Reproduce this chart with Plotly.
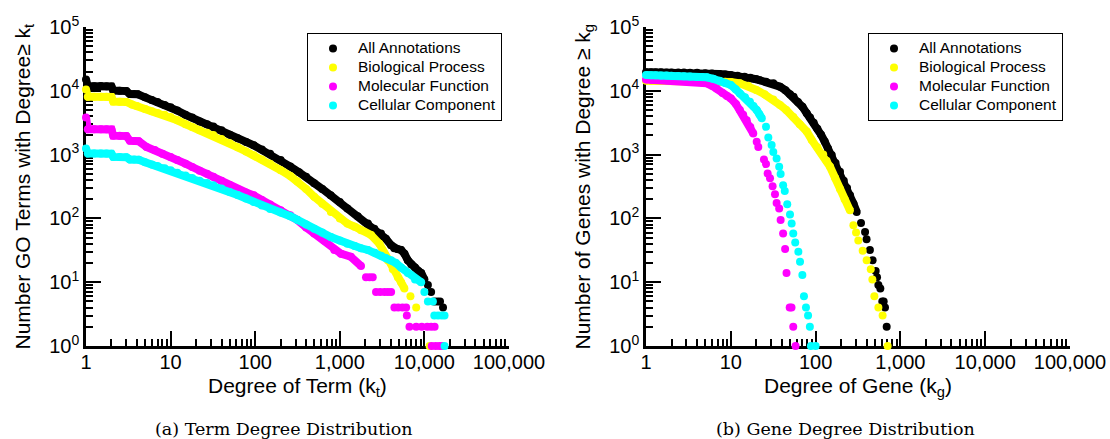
import plotly.graph_objects as go

# ---------------- data ----------------
series_names = ["All Annotations", "Biological Process", "Molecular Function", "Cellular Component"]

# (a) Term degree distribution
term_k_all = [1, 1.05, 1.25, 1.5, 1.75, 2.0, 2.1, 2.5, 3.0, 3.3, 3.7, 4.1, 5, 6, 7, 8.5, 10, 12, 15, 18, 22, 27, 32,
              40, 50, 62, 78, 96, 120, 150, 200, 260, 330, 400, 498, 620, 780, 1000, 1230, 1630, 2150, 2560, 3070,
              3500, 4040, 4400, 4800, 5300, 5810, 6370, 7000, 7750, 8500, 9160, 10000, 11000, 12000, 13100, 14200,
              15300, 16600]
term_n_all = [15100, 11800, 11800, 11900, 11800, 11700, 10100, 10000, 9900, 8900, 8900, 8800, 7900, 7200, 6700, 6000,
              5500, 4900, 4200, 3800, 3300, 3000, 2750, 2400, 2050, 1800, 1580, 1400, 1200, 1030, 820, 650, 530, 450,
              355, 290, 230, 180, 143, 108, 83, 69, 58, 48, 38, 34, 33, 32, 28, 22, 19, 17, 15, 14, 11, 9, 7, 5, 5, 5, 4]

term_k_bp = [1, 1.05, 1.25, 1.5, 1.75, 2.0, 2.1, 2.5, 3.0, 3.5, 4, 5, 6, 7, 8.5, 10, 12, 15, 18, 22, 27, 32, 40, 50,
             62, 78, 96, 120, 150, 200, 260, 316, 400, 498, 620, 784, 1000, 1230, 1500, 1780, 2340, 2940, 3370, 3690,
             4230, 4850, 5300, 5800, 6840, 8000, 11500]
term_n_bp = [10500, 8050, 8050, 8100, 8050, 8000, 6800, 6750, 6700, 6100, 5760, 5200, 4800, 4500, 4200, 3900, 3450,
             3000, 2700, 2400, 2200, 2030, 1750, 1500, 1300, 1120, 980, 840, 720, 570, 460, 380, 290, 218, 170, 126,
             100, 83, 74, 65, 55, 40, 28, 22, 16, 12, 10, 8, 6, 4, 1]

term_k_mf = [1, 1.05, 1.25, 1.5, 1.75, 2.0, 2.1, 2.5, 3.0, 3.3, 3.7, 4.2, 5.2, 6.5, 8, 10, 12, 15, 18, 22, 27, 32, 40,
             50, 62, 78, 96, 120, 150, 200, 260, 316, 400, 498, 653, 860, 1030, 1350, 1780, 2040, 2250, 2450, 2680,
             3000, 3370, 3700, 4040, 4420, 4900, 5500, 6080, 6200, 6660, 8000, 9300, 10800, 12000, 13200, 12200,
             13600, 15000, 16300]
term_n_mf = [3800, 2500, 2500, 2500, 2500, 2480, 1980, 1970, 1950, 1650, 1640, 1620, 1320, 1180, 1030, 920, 820, 720,
             640, 560, 500, 450, 390, 335, 290, 255, 230, 195, 165, 134, 112, 94, 72, 58, 45, 32, 28, 25, 18, 12, 12,
             12, 7, 7, 7, 7, 7, 4, 4, 4, 4, 3, 2, 2, 2, 2, 2, 2, 1, 1, 1, 1]

term_k_cc = [1, 1.05, 1.25, 1.5, 1.75, 2.0, 2.1, 2.5, 3.0, 3.3, 3.7, 4.2, 5, 6, 7, 8.5, 10, 12, 15, 18, 22, 27, 32, 40,
             50, 62, 78, 96, 120, 150, 200, 260, 316, 400, 498, 620, 784, 1000, 1230, 1500, 1780, 2150, 2600, 3070,
             3500, 4040, 4600, 5300, 6370, 7750, 9160, 10000, 11000, 12600, 13100, 14500, 16000, 17300, 17300]
term_n_cc = [1250, 1040, 1040, 1040, 1040, 1030, 920, 915, 910, 840, 835, 830, 760, 700, 660, 610, 570, 520, 470, 430,
             390, 360, 331, 295, 260, 232, 205, 181, 160, 140, 124, 108, 94, 80, 69, 60, 51, 45, 40, 37, 34, 32, 29,
             26, 24, 22, 20, 17, 14, 11, 10, 7, 5, 5, 3, 3, 3, 3, 1]

# (b) Gene degree distribution
gene_k_all = [1, 1.15, 1.3, 1.5, 1.75, 2, 2.4, 2.8, 3.3, 4, 5, 6, 7.3, 8.6, 10, 12, 14.5, 17, 20, 22, 26, 31.7, 38, 44,
              50, 55, 62, 70, 78.6, 86, 95, 105, 116, 128, 140, 155, 172, 194, 215, 235, 255, 280, 305, 343, 383, 399,
              437, 470, 511, 530, 550, 580, 612, 635, 658, 689]
gene_n_all = [19600, 19600, 19500, 19500, 19400, 19400, 19300, 19300, 19200, 19100, 18900, 18700, 18400, 18000, 17650,
              17200, 16600, 16000, 15200, 14600, 13900, 13100, 11600, 10200, 8800, 8060, 6700, 5600, 4430, 3800, 3150,
              2550, 2050, 1600, 1250, 990, 740, 537, 390, 300, 231, 170, 126, 85, 61, 47, 32, 22, 15, 12, 9, 8, 5, 5,
              4, 2]

gene_k_bp = [1, 1.15, 1.3, 1.5, 1.75, 2, 2.4, 2.8, 3.3, 4, 5, 6, 7.3, 8.6, 10, 12.8, 16, 20, 25, 31.7, 38, 45, 54.6,
             65, 78.6, 90, 105, 123, 135, 148, 170, 194, 220, 254, 279, 300, 319, 359, 400, 447, 467, 493, 550, 617, 707]
gene_n_bp = [14400, 14400, 14400, 14400, 14400, 14350, 14350, 14300, 14300, 14300, 14250, 14200, 14000, 13900, 13700,
             13100, 12000, 10300, 8800, 7300, 6000, 5000, 3900, 3000, 2300, 1700, 1300, 1000, 800, 645, 430, 290, 200,
             134, 78, 60, 45, 31, 22, 16, 11, 6, 4, 3, 1]

gene_k_mf = [1, 1.15, 1.3, 1.5, 1.75, 2, 2.4, 2.8, 3.3, 4, 4.6, 5.2, 6, 6.8, 8, 9, 10, 11.5, 12.8, 14, 15.4, 17, 18.4,
             20.2, 21.1, 24.6, 26, 27.2, 29, 31.1, 33.2, 34.7, 37.2, 38.7, 41.4, 43.7, 45.4, 49.5, 52, 54.5, 58]
gene_n_mf = [15000, 14900, 14800, 14800, 14700, 14600, 14500, 14400, 14200, 13800, 13500, 13100, 12000, 10900, 9200,
             8300, 7600, 6200, 5000, 4200, 3470, 2700, 2150, 1590, 1320, 840, 710, 507, 425, 320, 240, 175, 143, 94,
             58, 33, 14, 4, 4, 2, 1]

gene_k_cc = [1, 1.15, 1.3, 1.5, 1.75, 2, 2.4, 2.8, 3.3, 4, 4.6, 5.2, 6.2, 7.4, 8.6, 10, 11.4, 12.8, 14.7, 16.8, 18.5,
             20.2, 21.7, 23.2, 26, 27.7, 30.3, 31.7, 34.7, 37.2, 38.7, 41.4, 43.3, 46.3, 49.9, 52.2, 54.5, 57.5, 62.6,
             65.5, 69.8, 72.9, 77, 81.5, 85.6, 88, 100]
gene_n_cc = [17650, 17600, 17500, 17400, 17300, 17200, 17000, 16900, 16700, 16500, 16400, 16300, 15400, 14400, 13300,
             12300, 10600, 9100, 7900, 6750, 5800, 5000, 4300, 3700, 2730, 1860, 1410, 1100, 870, 645, 495, 331, 268,
             167, 115, 83, 58, 42, 30, 21, 13, 6, 4, 3, 2, 1, 1]

x_tick_vals = [1, 10, 100, 1000, 10000, 100000]
x_tick_text = ["1", "10", "100", "1,000", "10,000", "100,000"]
y_tick_vals = [1, 10, 100, 1000, 10000, 100000]
y_tick_text = ["10<sup>0</sup>", "10<sup>1</sup>", "10<sup>2</sup>", "10<sup>3</sup>", "10<sup>4</sup>", "10<sup>5</sup>"]

# ---------------- styling / layout ----------------
W, H = 1110, 439
PLOT_TOP, PLOT_BOTTOM = 27, 346
colors = ["#000000", "#FFFF00", "#FF00FF", "#00FFFF"]
SANS = "Liberation Sans, Arial, Helvetica, sans-serif"
MS = 8


def px_x(p):
    return p / W


def px_y(p):
    return (PLOT_BOTTOM - p) / (PLOT_BOTTOM - PLOT_TOP)


fig = go.Figure()

panels = [
    ("x", "y", "legend", [(term_k_all, term_n_all), (term_k_bp, term_n_bp), (term_k_mf, term_n_mf),
                          (term_k_cc, term_n_cc)], [10, 8, 18, 10]),
    ("x2", "y2", "legend2", [(gene_k_all, gene_n_all), (gene_k_bp, gene_n_bp), (gene_k_mf, gene_n_mf),
                             (gene_k_cc, gene_n_cc)], [120, 130, 2000, 3500]),
]

for xa, ya, leg, data, band_thr in panels:
    for i, ((ks, ns), thr) in enumerate(zip(data, band_thr)):
        m = 0
        while m < len(ns) and ns[m] >= thr:
            m += 1
        # continuous dense part rendered as a thick band under the dots
        fig.add_trace(go.Scatter(x=ks[:m], y=ns[:m], mode="lines", xaxis=xa, yaxis=ya,
                                 line=dict(color=colors[i], width=MS), showlegend=False,
                                 hoverinfo="skip", cliponaxis=False, legend=leg))
        fig.add_trace(go.Scatter(x=ks, y=ns, mode="markers",
                                 name='<span style="font-size:15.5px">%s</span>' % series_names[i],
                                 xaxis=xa, yaxis=ya,
                                 marker=dict(color=colors[i], size=MS, line=dict(width=0)),
                                 cliponaxis=False, legend=leg))

minor_vals = [m * 10 ** e for e in range(0, 5) for m in range(2, 10)]

axis_common = dict(
    type="log", range=[0, 5], showgrid=False, zeroline=False, automargin=False,
    showline=True, linecolor="black", linewidth=2.5, mirror=False,
    ticks="inside", ticklen=15, tickwidth=2, tickcolor="black",
    tickfont=dict(family=SANS, size=20, color="black"),
    minor=dict(tickmode="array", tickvals=minor_vals, ticks="inside", ticklen=7, tickwidth=2,
               tickcolor="black", showgrid=False),
    layer="below traces", fixedrange=True,
)

xaxis = dict(axis_common, tickmode="array", tickvals=x_tick_vals, ticktext=x_tick_text, ticklabelstandoff=-4)
yaxis = dict(axis_common, tickmode="array", tickvals=y_tick_vals, ticktext=y_tick_text)

legend_common = dict(
    xanchor="left", yanchor="top", bgcolor="white", bordercolor="black", borderwidth=1,
    font=dict(family=SANS, size=12.3, color="black"), tracegroupgap=0, itemclick=False,
    itemwidth=40,
)

fig.update_layout(
    template="none",
    width=W, height=H, autosize=False,
    margin=dict(l=0, r=0, t=PLOT_TOP, b=H - PLOT_BOTTOM, pad=0),
    paper_bgcolor="white", plot_bgcolor="white",
    xaxis=dict(xaxis, domain=[px_x(86), px_x(509)], anchor="y"),
    yaxis=dict(yaxis, domain=[0, 1], anchor="x"),
    xaxis2=dict(xaxis, domain=[px_x(646), px_x(1070)], anchor="y2"),
    yaxis2=dict(yaxis, domain=[0, 1], anchor="x2"),
    legend=dict(legend_common, x=px_x(307), y=px_y(33)),
    legend2=dict(legend_common, x=px_x(868), y=px_y(33)),
    showlegend=True,
)

annots = [
    dict(text="Number GO Terms with Degree≥ k<sub>t</sub>", x=px_x(23), y=0.5, textangle=-90, size=21),
    dict(text="Number of Genes with Degree ≥ k<sub>g</sub>", x=px_x(583), y=0.5, textangle=-90, size=21),
    dict(text="Degree of Term (k<sub>t</sub>)", x=px_x(297), y=px_y(387), textangle=0, size=21),
    dict(text="Degree of Gene (k<sub>g</sub>)", x=px_x(858), y=px_y(387), textangle=0, size=21),
]
for a in annots:
    fig.add_annotation(text=a["text"], x=a["x"], y=a["y"], xref="paper", yref="paper",
                       textangle=a["textangle"], showarrow=False, xanchor="center", yanchor="middle",
                       font=dict(family=SANS, size=a["size"], color="black"))

captions = [("(a) Term Degree Distribution", 284), ("(b) Gene Degree Distribution", 845)]
for txt, cx in captions:
    fig.add_annotation(text=txt, x=px_x(cx), y=px_y(429), xref="paper", yref="paper", showarrow=False,
                       xanchor="center", yanchor="middle",
                       font=dict(family="DejaVu Serif, Liberation Serif, serif", size=17.5, color="black"))

fig.write_html("out.html", config={"displayModeBar": False},
               post_script="document.body.style.margin='0px';")
